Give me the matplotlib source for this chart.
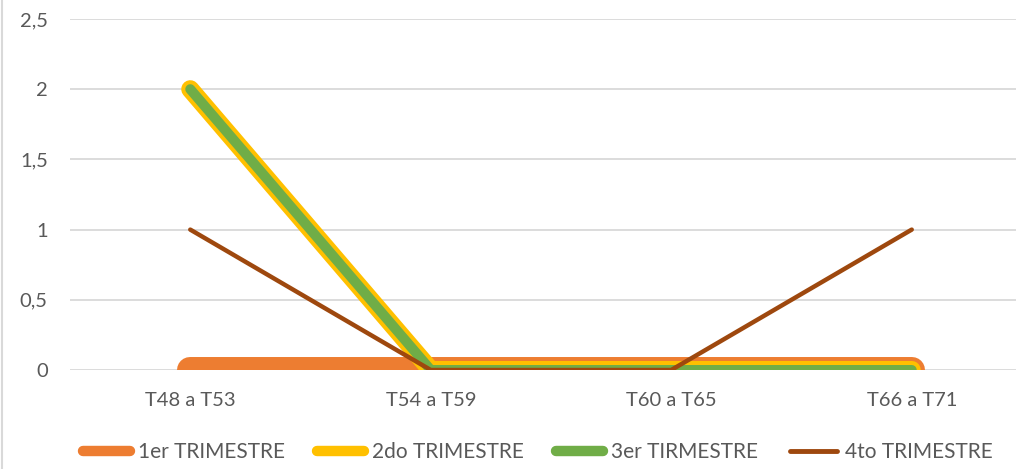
import matplotlib
matplotlib.use("Agg")
import matplotlib.pyplot as plt
from matplotlib.lines import Line2D

categories = ["T48 a T53", "T54 a T59", "T60 a T65", "T66 a T71"]
series_names = ["1er TRIMESTRE", "2do TRIMESTRE", "3er TIRMESTRE", "4to TRIMESTRE"]
s1 = [0, 0, 0, 0]
s2 = [2, 0, 0, 0]
s3 = [2, 0, 0, 0]
s4 = [1, 0, 0, 1]
yticks = [0, 0.5, 1, 1.5, 2, 2.5]
ytick_labels = ["0", "0,5", "1", "1,5", "2", "2,5"]

colors = ["#ED7D31", "#FFC000", "#70AD47", "#9E480E"]
widths = [18.7, 13.0, 7.2, 3.2]

plt.rcParams['font.family'] = ['Lato', 'DejaVu Sans']
fig = plt.figure(figsize=(10.16, 4.69), dpi=100)
W, H = 1016, 469
x0, x1 = 70, 1032
ytop, ybot = 19, 370
ax = fig.add_axes([x0 / W, 1 - ybot / H, (x1 - x0) / W, (ybot - ytop) / H])

x = list(range(len(categories)))
for vals, c, lw, name in zip([s1, s2, s3, s4], colors, widths, series_names):
    ax.plot(x, vals, color=c, lw=lw, solid_capstyle='round', solid_joinstyle='round', label=name)

ax.set_xlim(-0.5, 3.5)
ax.set_ylim(0, 2.5)
ax.set_yticks(yticks)
ax.set_yticklabels(ytick_labels)
ax.set_xticks(x)
ax.set_xticklabels(categories)
ax.yaxis.grid(True, color="#D9D9D9", lw=1.3)
ax.set_axisbelow(True)
for s in ax.spines.values():
    s.set_visible(False)
ax.tick_params(length=0, labelsize=14.5, colors="#595959")
ax.tick_params(axis='y', pad=16)
ax.tick_params(axis='x', pad=15.5)

fs = 15
fpx = fs * 100 / 72
handles = [Line2D([0], [0], color=c, lw=lw, solid_capstyle='round')
           for c, lw in zip(colors, [7.5, 7.5, 7.5, 3.5])]
leg = fig.legend(handles, series_names, loc='center', bbox_to_anchor=(0.529, 1 - 452 / H), ncol=4,
                 frameon=False, fontsize=fs, handlelength=47 / fpx, handletextpad=8 / fpx,
                 columnspacing=32 / fpx)
for t in leg.get_texts():
    t.set_color("#595959")

fig.add_artist(Line2D([1.5 / W, 1.5 / W], [0, 1], color="#D9D9D9", lw=1.5))

fig.savefig("out.png", dpi=100)
